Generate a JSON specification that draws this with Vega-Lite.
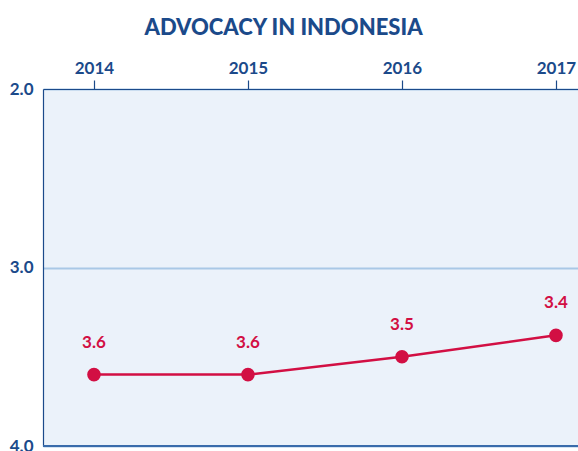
{
  "$schema": "https://vega.github.io/schema/vega-lite/v6.json",
  "autosize": "none",
  "padding": {"left": 43, "top": 89, "right": 0, "bottom": 5},
  "width": 535,
  "height": 357,
  "background": "#ffffff",
  "title": {
    "text": "ADVOCACY IN INDONESIA",
    "font": "Lato",
    "fontSize": 22,
    "fontWeight": 900,
    "color": "#1b4a8a",
    "anchor": "middle",
    "frame": "group",
    "dx": -27,
    "offset": 19
  },
  "config": {
    "view": {"fill": "#ebf2fa", "stroke": null},
    "font": "Lato"
  },
  "data": {
    "values": [
      {"year": 2014, "score": 3.6},
      {"year": 2015, "score": 3.6},
      {"year": 2016, "score": 3.5},
      {"year": 2017, "score": 3.38}
    ]
  },
  "encoding": {
    "x": {
      "field": "year",
      "type": "quantitative",
      "scale": {"domain": [2013.669, 2017.143], "nice": false, "zero": false},
      "axis": {
        "orient": "top",
        "title": null,
        "values": [2014, 2015, 2016, 2017],
        "format": "d",
        "grid": false,
        "domainColor": "#1b4a8a",
        "domainWidth": 1.2,
        "tickColor": "#1b4a8a",
        "tickSize": 9,
        "tickWidth": 1.2,
        "labelPadding": 3,
        "labelFont": "Lato",
        "labelFontSize": 17,
        "labelFontWeight": "bold",
        "labelColor": "#1b4a8a",
        "labelFlush": false
      }
    },
    "y": {
      "field": "score",
      "type": "quantitative",
      "scale": {"domain": [2, 4], "reverse": true, "nice": false, "zero": false},
      "axis": {
        "title": null,
        "values": [2, 3, 4],
        "format": ".1f",
        "grid": true,
        "gridColor": "#a9c8e6",
        "gridWidth": 2,
        "domainColor": "#1b4a8a",
        "domainWidth": 1.2,
        "ticks": false,
        "labelPadding": 10,
        "labelFont": "Lato",
        "labelFontSize": 17,
        "labelFontWeight": "bold",
        "labelColor": "#1b4a8a",
        "labelFlush": false
      }
    }
  },
  "layer": [
    {
      "mark": {"type": "rule", "color": "#3a6cab", "strokeWidth": 2},
      "encoding": {"y": {"datum": 4}, "x": {"value": 0}, "x2": {"value": 535}}
    },
    {
      "mark": {"type": "line", "color": "#d20f43", "strokeWidth": 2.5}
    },
    {
      "mark": {"type": "point", "filled": true, "opacity": 1, "color": "#d20f43", "size": 185}
    },
    {
      "mark": {"type": "text", "dy": -32, "font": "Lato", "fontSize": 17, "fontWeight": "bold", "color": "#d20f43"},
      "encoding": {"text": {"field": "score", "type": "quantitative", "format": ".1f"}}
    }
  ]
}
